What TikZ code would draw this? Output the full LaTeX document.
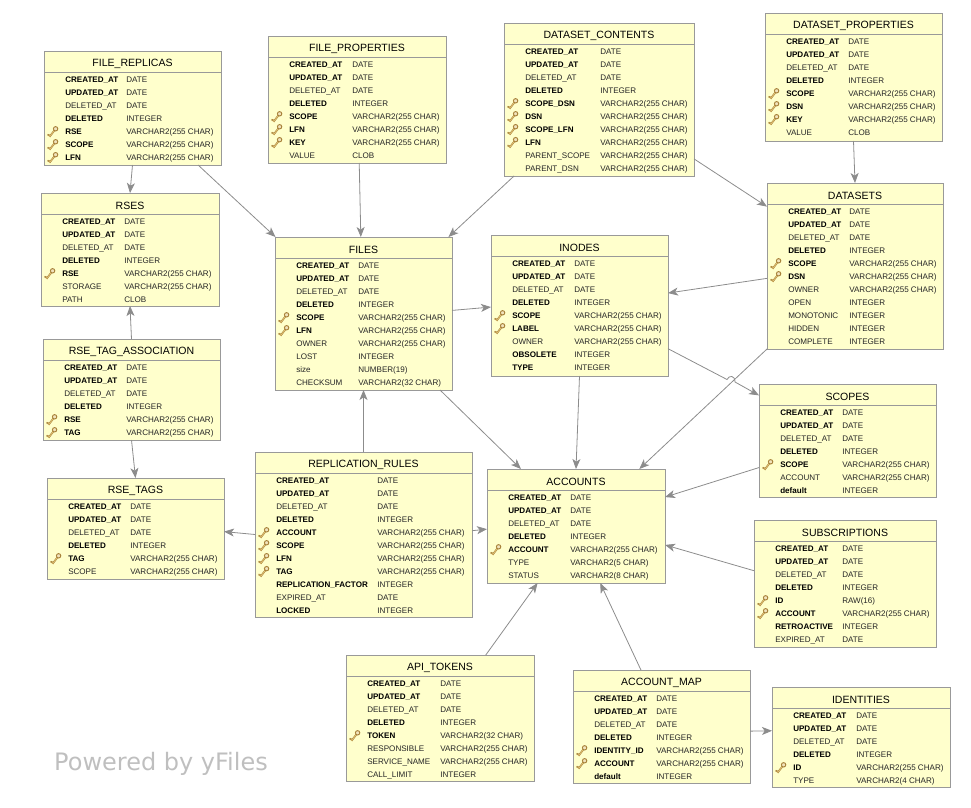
\documentclass[tikz,border=0pt]{standalone}
\usepackage{fontspec}
\setmainfont{Liberation Sans}
\newfontfamily\brandfont{DejaVu Sans}
\usetikzlibrary{arrows.meta,shadows}
\newcommand{\vc}{VARCHAR2(255 CHAR)}
\def\keymark{k}
\definecolor{tablefill}{HTML}{FFFFCC}
\definecolor{keydark}{HTML}{A8823A}
\definecolor{keylight}{HTML}{E6C77A}
\tikzset{
         tablebox/.style=
          {
           draw=black!40,
           fill=tablefill,
           line width=.5pt,
           inner sep=0pt,
           outer sep=0pt,
           anchor=north west,
           general shadow={fill=black!18,shadow xshift=.7pt,shadow yshift=-.7pt}
          },
         tablerule/.style={draw=black!40,line width=.35pt},
         tabletitle/.style={font=\fontsize{7.9}{9}\selectfont},
         colb/.style={font=\fontsize{6.05}{7}\selectfont\bfseries,anchor=west,inner sep=0pt,text height=4.4pt,text depth=0pt},
         coln/.style={font=\fontsize{6.05}{7}\selectfont,text=black!85,anchor=west,inner sep=0pt,text height=4.4pt,text depth=0pt},
         colk/.style={colb},
         link/.style={draw=black!45,line width=.6pt,-{Stealth[length=7.5pt,width=6pt,inset=2pt]}},
         keyicon/.pic=
          {
           \draw[draw=keydark,line width=1.3pt] (-3.5,5)--(1.5,-1.5);
           \draw[draw=keylight,line width=.5pt] (-3.5,5)--(1.5,-1.5);
           \draw[draw=keydark,line width=.4pt,fill=keylight] (-3,3.2)--(-5,2.4)--(-5.4,3.4)--(-3.6,4.2);
           \draw[draw=keydark,line width=.7pt,fill=keylight!50!white] (2.6,-3) circle (2.2);
          }
        }
% name, left, top, width, height, title, type column, rows
\newcommand{\dbtable}[8]{
\node[tablebox,minimum width=#4*.75pt,minimum height=#5*.75pt] (#1) at (#2,#3) {};
\draw[tablerule] (#1.north west) ++(0,21) -- ++(#4,0);
\node[tabletitle] (#1-title) at (#2+#4/2,#3+12.5) {#6};
\foreach \kind/\colname/\coltype [count=\i] in {#8}
 {
  \pgfmathsetmacro{\rowy}{#3+29+12.95*(\i-1)}
  \node[col\kind] (#1-name-\i) at (#2+21,\rowy) {\colname};
  \node[coln] (#1-type-\i) at (#2+#7,\rowy) {\coltype};
  \ifx\kind\keymark \pic at (#2+9,\rowy) {keyicon}; \fi
 }
}
\begin{document}
\begin{tikzpicture}[x=.75pt,y=-.75pt]
\useasboundingbox (0,0) rectangle (971,807);
%tables
\dbtable{filereplicas}{44}{51}{177}{114}{FILE\_REPLICAS}{82}
 {b/CREATED\_AT/DATE,b/UPDATED\_AT/DATE,n/DELETED\_AT/DATE,b/DELETED/INTEGER,k/RSE/\vc,k/SCOPE/\vc,k/LFN/\vc}
\dbtable{fileproperties}{268}{36}{178}{127}{FILE\_PROPERTIES}{84}
 {b/CREATED\_AT/DATE,b/UPDATED\_AT/DATE,n/DELETED\_AT/DATE,b/DELETED/INTEGER,k/SCOPE/\vc,k/LFN/\vc,k/KEY/\vc,n/VALUE/CLOB}
\dbtable{datasetcontents}{504}{23}{190}{153}{DATASET\_CONTENTS}{96}
 {b/CREATED\_AT/DATE,b/UPDATED\_AT/DATE,n/DELETED\_AT/DATE,b/DELETED/INTEGER,k/SCOPE\_DSN/\vc,k/DSN/\vc,k/SCOPE\_LFN/\vc,k/LFN/\vc,n/PARENT\_SCOPE/\vc,n/PARENT\_DSN/\vc}
\dbtable{datasetproperties}{765}{13}{177}{128}{DATASET\_PROPERTIES}{83}
 {b/CREATED\_AT/DATE,b/UPDATED\_AT/DATE,n/DELETED\_AT/DATE,b/DELETED/INTEGER,k/SCOPE/\vc,k/DSN/\vc,k/KEY/\vc,n/VALUE/CLOB}
\dbtable{rses}{41}{193}{178}{113}{RSES}{83}
 {b/CREATED\_AT/DATE,b/UPDATED\_AT/DATE,n/DELETED\_AT/DATE,b/DELETED/INTEGER,k/RSE/\vc,n/STORAGE/\vc,n/PATH/CLOB}
\dbtable{files}{275}{237}{177}{153}{FILES}{83}
 {b/CREATED\_AT/DATE,b/UPDATED\_AT/DATE,n/DELETED\_AT/DATE,b/DELETED/INTEGER,k/SCOPE/\vc,k/LFN/\vc,n/OWNER/\vc,n/LOST/INTEGER,n/size/NUMBER(19),n/CHECKSUM/VARCHAR2(32 CHAR)}
\dbtable{inodes}{491}{235}{177}{141}{INODES}{83}
 {b/CREATED\_AT/DATE,b/UPDATED\_AT/DATE,n/DELETED\_AT/DATE,b/DELETED/INTEGER,k/SCOPE/\vc,k/LABEL/\vc,n/OWNER/\vc,b/OBSOLETE/INTEGER,b/TYPE/INTEGER}
\dbtable{datasets}{767}{183}{176}{166}{DATASETS}{82}
 {b/CREATED\_AT/DATE,b/UPDATED\_AT/DATE,n/DELETED\_AT/DATE,b/DELETED/INTEGER,k/SCOPE/\vc,k/DSN/\vc,n/OWNER/\vc,n/OPEN/INTEGER,n/MONOTONIC/INTEGER,n/HIDDEN/INTEGER,n/COMPLETE/INTEGER}
\dbtable{rsetagassociation}{43}{339}{177}{101}{RSE\_TAG\_ASSOCIATION}{83}
 {b/CREATED\_AT/DATE,b/UPDATED\_AT/DATE,n/DELETED\_AT/DATE,b/DELETED/INTEGER,k/RSE/\vc,k/TAG/\vc}
\dbtable{rsetags}{47}{478}{177}{101}{RSE\_TAGS}{83}
 {b/CREATED\_AT/DATE,b/UPDATED\_AT/DATE,n/DELETED\_AT/DATE,b/DELETED/INTEGER,k/TAG/\vc,n/SCOPE/\vc}
\dbtable{replicationrules}{255}{452}{217}{165}{REPLICATION\_RULES}{122}
 {b/CREATED\_AT/DATE,b/UPDATED\_AT/DATE,n/DELETED\_AT/DATE,b/DELETED/INTEGER,k/ACCOUNT/\vc,k/SCOPE/\vc,k/LFN/\vc,k/TAG/\vc,b/REPLICATION\_FACTOR/INTEGER,n/EXPIRED\_AT/DATE,b/LOCKED/INTEGER}
\dbtable{accounts}{487}{469}{178}{114}{ACCOUNTS}{83}
 {b/CREATED\_AT/DATE,b/UPDATED\_AT/DATE,n/DELETED\_AT/DATE,b/DELETED/INTEGER,k/ACCOUNT/\vc,n/TYPE/VARCHAR2(5 CHAR),n/STATUS/VARCHAR2(8 CHAR)}
\dbtable{scopes}{759}{384}{177}{113}{SCOPES}{83}
 {b/CREATED\_AT/DATE,b/UPDATED\_AT/DATE,n/DELETED\_AT/DATE,b/DELETED/INTEGER,k/SCOPE/\vc,n/ACCOUNT/\vc,b/default/INTEGER}
\dbtable{subscriptions}{754}{520}{182}{127}{SUBSCRIPTIONS}{88}
 {b/CREATED\_AT/DATE,b/UPDATED\_AT/DATE,n/DELETED\_AT/DATE,b/DELETED/INTEGER,k/ID/RAW(16),k/ACCOUNT/\vc,b/RETROACTIVE/INTEGER,n/EXPIRED\_AT/DATE}
\dbtable{apitokens}{346}{655}{188}{126}{API\_TOKENS}{94}
 {b/CREATED\_AT/DATE,b/UPDATED\_AT/DATE,n/DELETED\_AT/DATE,b/DELETED/INTEGER,k/TOKEN/VARCHAR2(32 CHAR),n/RESPONSIBLE/\vc,n/SERVICE\_NAME/\vc,n/CALL\_LIMIT/INTEGER}
\dbtable{accountmap}{573}{670}{177}{113}{ACCOUNT\_MAP}{83}
 {b/CREATED\_AT/DATE,b/UPDATED\_AT/DATE,n/DELETED\_AT/DATE,b/DELETED/INTEGER,k/IDENTITY\_ID/\vc,k/ACCOUNT/\vc,b/default/INTEGER}
\dbtable{identities}{772}{687}{178}{100}{IDENTITIES}{84}
 {b/CREATED\_AT/DATE,b/UPDATED\_AT/DATE,n/DELETED\_AT/DATE,b/DELETED/INTEGER,k/ID/\vc,n/TYPE/VARCHAR2(4 CHAR)}
%links
\draw[link] (filereplicas.south)--(rses.north);
\draw[link] (filereplicas.-41.9)--(files.139.5);
\draw[link] (fileproperties.-88)--(files.92);
\draw[link] (datasetcontents.-138)--(files.42.5);
\draw[link] (datasetcontents.-32.9)--(datasets.146.6);
\draw[link] (datasetproperties.south)--(datasets.north);
\draw[link] (datasets.-172.2)--(inodes.8);
\draw[link] (files.2.3)--(inodes.181.6);
\draw[link] (rsetagassociation.north)--(rses.south);
\draw[link] (rsetagassociation.south)--(rsetags.north);
\draw[link] (replicationrules.west)--(rsetags.-2.3);
\draw[link] (replicationrules.north)--(files.south);
\draw[link] (replicationrules.2.4)--(accounts.182.6);
\draw[link] (files.-45)--(accounts.134.5);
\draw[link] (inodes.south)--(accounts.north);
\draw[link] (datasets.south west)--(accounts.42.6);
\coordinate (hopin) at (727,379.5);
\coordinate (hopout) at (735,382);
\draw[link] (inodes.-26.7)--(hopin) .. controls (729,375) and (735,375) .. (hopout)--(scopes.153.3);
\draw[link] (scopes.-163.9)--(accounts.18);
\draw[link] (subscriptions.172.8)--(accounts.-12);
\draw[link] (apitokens.54.5)--(accounts.-124.4);
\draw[link] (accountmap.110.8)--(accounts.-67.2);
\draw[link] (accountmap.-3.6)--(identities.176.8);
%watermark
\node[font=\fontsize{18}{20}\selectfont\brandfont,text=black!25,inner sep=0pt] (poweredby) at (161,764) {Powered by yFiles};
\end{tikzpicture}
\end{document}
